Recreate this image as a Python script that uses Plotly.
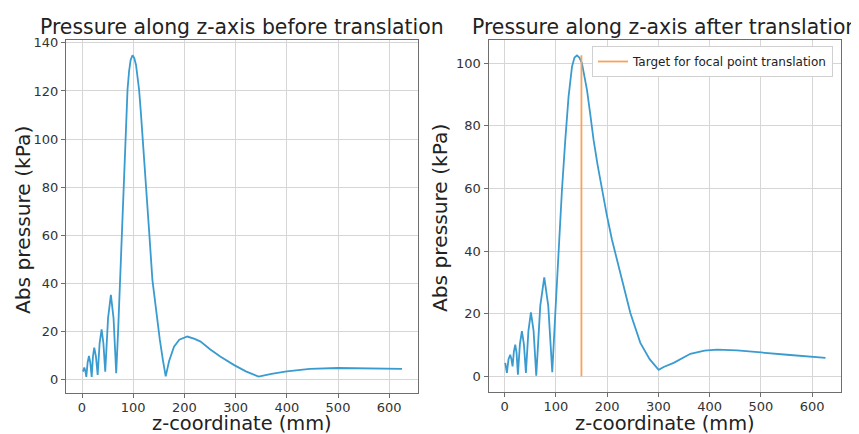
import plotly.graph_objects as go

W, H = 859, 434
OFF = 8  # page body margin of the written html

# ---------------- data ----------------
z_before = [2, 2.8, 4.5, 6.5, 8.4, 11.0, 13.6, 16.2, 18.9, 21.4, 23.9, 27.2, 30.6,
            34.4, 38.3, 41.8, 45.4, 50.9, 56.4, 61.6, 66.8, 70.5, 74.5, 78.5, 82.3,
            85.5, 88.9, 92, 95, 98.6, 102, 105.5, 108.5, 111.5, 115, 118, 121, 124.6,
            131, 137.5, 145, 152, 158, 163.5, 170, 179.7, 190, 205.7, 220, 231.6,
            250, 270, 296.4, 320, 345, 370, 400, 445, 500, 556, 625]
p_before = [3.2, 4.3, 4.9, 3.5, 1.0, 7.0, 9.7, 7.0, 1.0, 9.5, 13.2, 9.5, 1.8,
            15.0, 20.8, 15.0, 3.2, 25.5, 35.1, 25.5, 2.5, 20.0, 41.0, 62.0, 83.0,
            103.0, 120.5, 128.3, 132.9, 134.8, 133.8, 130.8, 126.6, 120.5, 111.0, 101.0, 92.0, 83.0,
            62.0, 41.4, 28.0, 16.5, 8.0, 1.2, 7.5, 13.6, 16.5, 17.8, 16.8, 15.7,
            12.5, 9.5, 6.0, 3.3, 1.1, 2.3, 3.3, 4.3, 4.7, 4.6, 4.3]

z_after = [1.4, 3.0, 4.6, 7.8, 11.1, 13.4, 15.7, 18.3, 20.9, 23.5, 26.1, 30.0, 33.9,
           37.8, 41.7, 46.6, 51.5, 56.7, 61.9, 69.7, 77.5, 85.3, 93.1, 99.0, 105.4,
           112.0, 118.5, 124.9, 131.6, 136.5, 141.3, 146.0, 151.0, 155.5, 160.8, 167.0,
           173.7, 181.5, 190.0, 199.5, 209.6, 225.8, 245.4, 264.9, 283.0, 300.6, 310.4,
           329.9, 362.5, 390.0, 414.6, 453.6, 502.4, 551.2, 626.0]
p_after = [4.3, 3.0, 1.1, 5.5, 6.9, 5.5, 3.2, 8.0, 10.1, 7.5, 0.5, 10.3, 14.4,
           10.3, 1.1, 14.5, 20.4, 14.5, 0.2, 22.5, 31.6, 22.5, 1.3, 20.0, 40.0,
           59.5, 75.5, 89.3, 98.9, 101.8, 102.5, 101.8, 100.0, 96.5, 91.5, 84.0,
           75.5, 67.5, 59.5, 51.5, 43.6, 33.0, 20.2, 10.7, 5.5, 2.1, 3.0,
           4.3, 7.2, 8.2, 8.5, 8.3, 7.7, 6.9, 5.9]

target_z = [150, 150]
target_p = [0, 102.5]

x_ticks = [0, 100, 200, 300, 400, 500, 600]
y_ticks_before = [0, 20, 40, 60, 80, 100, 120, 140]
y_ticks_after = [0, 20, 40, 60, 80, 100]

BLUE = "#3a9bd0"
ORANGE = "#f8a25c"
FONT = "DejaVu Sans"

fig = go.Figure()
fig.add_trace(go.Scatter(x=z_before, y=p_before, mode="lines",
                         line=dict(color=BLUE, width=1.8), showlegend=False,
                         xaxis="x", yaxis="y"))
fig.add_trace(go.Scatter(x=z_after, y=p_after, mode="lines",
                         line=dict(color=BLUE, width=1.8), showlegend=False,
                         xaxis="x2", yaxis="y2"))
fig.add_trace(go.Scatter(x=target_z, y=target_p, mode="lines",
                         line=dict(color=ORANGE, width=1.8),
                         name="Target for focal point translation",
                         xaxis="x2", yaxis="y2"))


def px_x(p):
    return (p - OFF) / W


def px_y(p):
    return 1 - (p - OFF) / H


axis_common = dict(showgrid=True, gridcolor="#d6d6d6", gridwidth=1,
                   zeroline=False, showline=True, mirror=True,
                   linecolor="#6e6e6e", linewidth=1, automargin=False,
                   ticks="outside", ticklen=4, tickcolor="#6e6e6e", tickwidth=1,
                   tickfont=dict(family=FONT, size=13, color="#333333"))

fig.update_layout(
    width=W, height=H,
    margin=dict(l=0, r=0, t=0, b=0, autoexpand=False),
    paper_bgcolor="white", plot_bgcolor="white",
    font=dict(family=FONT, color="#222222"),
    xaxis=dict(domain=[px_x(66), px_x(418)], range=[-31.25, 656.25],
               tickvals=x_ticks, anchor="y", ticklabelstandoff=-2, **axis_common),
    yaxis=dict(domain=[px_y(393), px_y(40)], range=[-5.7, 141.2],
               tickvals=y_ticks_before, anchor="x", **axis_common),
    xaxis2=dict(domain=[px_x(488.5), px_x(841)], range=[-31.25, 656.25],
                tickvals=x_ticks, anchor="y2", ticklabelstandoff=-2, **axis_common),
    yaxis2=dict(domain=[px_y(392), px_y(40)], range=[-5.0, 107.4],
                tickvals=y_ticks_after, anchor="x2", **axis_common),
    legend=dict(x=px_x(592), y=px_y(46), xanchor="left", yanchor="top",
                bgcolor="white", bordercolor="#d0d0d0", borderwidth=1,
                font=dict(family=FONT, size=12, color="#222222"),
                itemwidth=30),
)

annotations = [
    dict(text="Pressure along z-axis before translation", x=px_x(242), y=px_y(27),
         size=20.4),
    dict(text="Pressure along z-axis after translation", x=px_x(665), y=px_y(27),
         size=20.4),
    dict(text="z-coordinate (mm)", x=px_x(242), y=px_y(423), size=19.4),
    dict(text="z-coordinate (mm)", x=px_x(665), y=px_y(423), size=19.4),
    dict(text="Abs pressure (kPa)", x=px_x(23), y=px_y(220), size=20.2, angle=-90),
    dict(text="Abs pressure (kPa)", x=px_x(440), y=px_y(218), size=20.2, angle=-90),
]
for a in annotations:
    fig.add_annotation(text=a["text"], x=a["x"], y=a["y"], xref="paper", yref="paper",
                       xanchor="center", yanchor="middle", showarrow=False,
                       textangle=a.get("angle", 0),
                       font=dict(family=FONT, size=a["size"], color="#222222"))

fig.write_html("out.html")
